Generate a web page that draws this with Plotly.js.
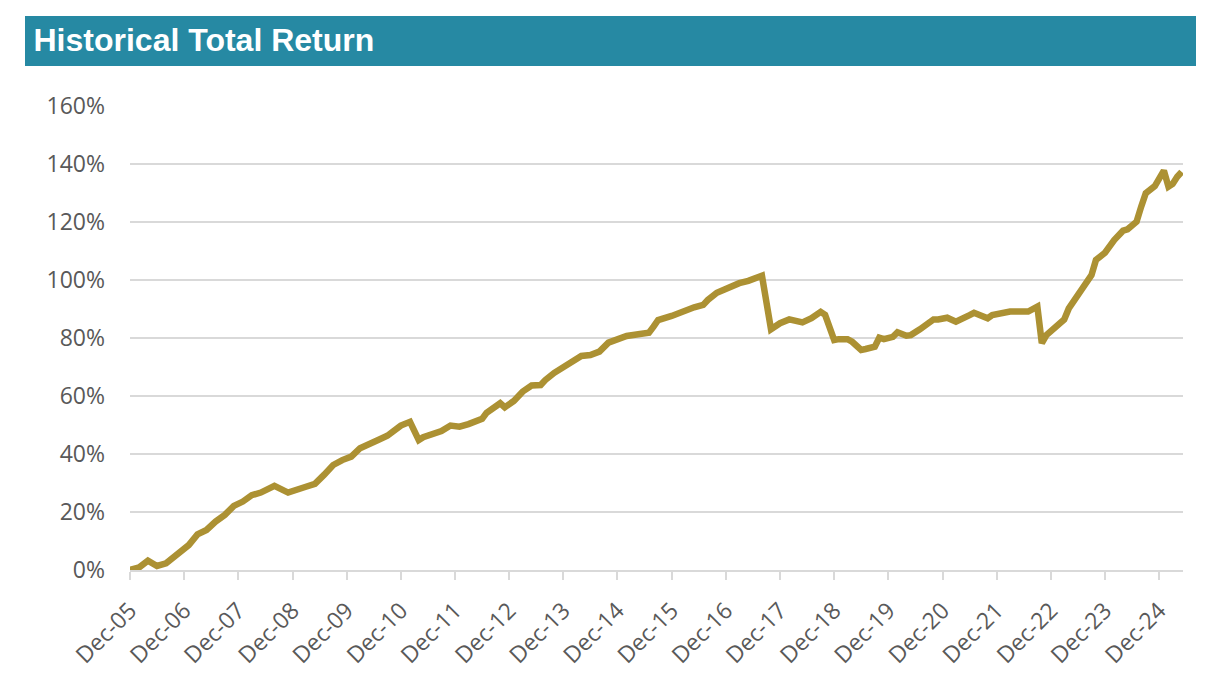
<!DOCTYPE html>
<html>
<head>
<meta charset="utf-8">
<script src="https://cdn.plot.ly/plotly-3.0.1.min.js"></script>
<style>
  html, body { margin: 0; padding: 0; background: #ffffff; }
  #chart { width: 1218px; height: 692px; }
</style>
</head>
<body>
<div id="chart"></div>
<script>
// Month of each reading
const dates = [
  "2005-12","2006-02","2006-04","2006-06","2006-08","2006-11","2007-01","2007-03","2007-05","2007-07",
  "2007-09","2007-11","2008-01","2008-03","2008-05","2008-08","2008-11","2009-03","2009-05","2009-07",
  "2009-09","2009-11","2010-01","2010-03","2010-06","2010-07","2010-09","2010-11","2010-12","2011-02",
  "2011-04","2011-05","2011-08","2011-09","2011-11","2012-01","2012-03","2012-06","2012-07","2012-10",
  "2012-11","2013-01","2013-03","2013-05","2013-07","2013-08","2013-10","2013-12","2014-03","2014-04",
  "2014-06","2014-08","2014-10","2014-11","2015-02","2015-05","2015-07","2015-08","2015-09","2015-12",
  "2016-01","2016-02","2016-05","2016-07","2016-08","2016-10","2016-12","2017-03","2017-05","2017-07",
  "2017-08","2017-10","2017-12","2018-02","2018-05","2018-07","2018-09","2018-10","2018-12","2019-01",
  "2019-03","2019-04","2019-06","2019-07","2019-09","2019-10","2019-11","2020-01","2020-02","2020-04",
  "2020-05","2020-07","2020-10","2020-11","2021-01","2021-03","2021-04","2021-06","2021-07","2021-10",
  "2021-11","2022-02","2022-03","2022-05","2022-07","2022-09","2022-10","2022-11","2023-01","2023-03",
  "2023-04","2023-06","2023-07","2023-09","2023-10","2023-12","2024-02","2024-04","2024-05","2024-07",
  "2024-08","2024-09","2024-11","2025-01","2025-02","2025-03","2025-04","2025-05"
];

// Historical total return (%)
const totalReturn = [
  0.0, 0.9, 3.2, 1.4, 2.3, 6.3, 8.6, 12.3, 13.8, 16.7,
  19.0, 22.1, 23.6, 25.8, 26.7, 29.0, 26.7, 28.7, 29.7, 32.8,
  36.2, 37.9, 39.1, 42.0, 43.7, 44.8, 46.3, 48.6, 49.8, 51.1,
  44.8, 45.8, 47.7, 47.9, 49.8, 49.4, 50.3, 52.1, 54.2, 57.5,
  56.1, 58.3, 61.5, 63.6, 63.8, 65.5, 68.0, 69.9, 72.4, 73.8,
  74.1, 75.3, 78.4, 79.1, 80.7, 81.4, 81.8, 83.9, 86.2, 87.6,
  88.2, 89.1, 90.6, 91.4, 93.1, 95.6, 97.1, 98.9, 99.7, 100.6,
  101.5, 83.0, 85.1, 86.4, 85.4, 86.8, 89.0, 88.0, 79.3, 79.6,
  79.6, 78.7, 75.9, 76.2, 77.0, 80.1, 79.6, 80.4, 82.0, 80.8,
  81.0, 83.0, 86.4, 86.4, 87.0, 85.6, 86.2, 87.9, 88.7, 86.8,
  87.9, 89.1, 89.1, 89.1, 89.1, 90.8, 78.2, 81.0, 83.9, 86.4,
  90.2, 94.8, 97.5, 101.7, 106.9, 109.4, 113.8, 117.0, 117.5, 120.1,
  125.3, 129.9, 132.4, 137.7, 132.2, 133.1, 135.6, 137.3
];

// X tick positions and labels
const tickDates = [
  "2005-12","2006-12","2007-12","2008-12","2009-12","2010-12","2011-12","2012-12","2013-12","2014-12",
  "2015-12","2016-12","2017-12","2018-12","2019-12","2020-12","2021-12","2022-12","2023-12","2024-12"
];
const tickLabels = [
  "Dec-05","Dec-06","Dec-07","Dec-08","Dec-09","Dec-10","Dec-11","Dec-12","Dec-13","Dec-14",
  "Dec-15","Dec-16","Dec-17","Dec-18","Dec-19","Dec-20","Dec-21","Dec-22","Dec-23","Dec-24"
];

// Y ticks and labels
const yTicks = [0, 20, 40, 60, 80, 100, 120, 140, 160];
const yTickLabels = ["0%", "20%", "40%", "60%", "80%", "100%", "120%", "140%", "160%"];

const trace = {
  x: dates,
  y: totalReturn,
  type: "scatter",
  mode: "lines",
  line: { color: "#AC9133", width: 6.5 },
  hoverinfo: "skip"
};

const layout = {
  width: 1218,
  height: 692,
  paper_bgcolor: "#ffffff",
  plot_bgcolor: "#ffffff",
  margin: { l: 130, r: 35, t: 106, b: 122 },
  showlegend: false,
  font: { family: "Open Sans, Liberation Sans, Arial, sans-serif", color: "#595959" },
  title: {
    text: "<b>Historical Total Return</b>",
    font: { family: "Liberation Sans, Arial, sans-serif", size: 32, color: "#ffffff" },
    x: 0.0275, xref: "container", xanchor: "left",
    y: 0.942, yref: "container", yanchor: "middle"
  },
  shapes: [{
    type: "rect", xref: "paper", yref: "paper", layer: "below",
    x0: (25 - 130) / 1053, x1: (1196 - 130) / 1053,
    y0: (570 - 66) / 464, y1: (570 - 16) / 464,
    fillcolor: "#2689A3", line: { width: 0 }
  }],
  xaxis: {
    type: "date",
    range: ["2005-12-01", "2025-05-10"],
    tickmode: "array",
    tickvals: tickDates,
    ticktext: tickLabels,
    tickangle: -45,
    ticks: "outside",
    ticklen: 8,
    tickwidth: 2,
    tickcolor: "#D9D9D9",
    ticklabelstandoff: 8,
    showgrid: false,
    showline: true,
    linecolor: "#D9D9D9",
    linewidth: 2,
    zeroline: false,
    tickfont: { size: 23, color: "#595959" },
    fixedrange: true
  },
  yaxis: {
    range: [0, 160],
    tickmode: "array",
    tickvals: yTicks,
    ticktext: yTickLabels,
    showgrid: true,
    gridcolor: "#D9D9D9",
    gridwidth: 2,
    zeroline: false,
    showline: false,
    ticks: "",
    ticklabelstandoff: 24,
    tickfont: { size: 23, color: "#595959" },
    fixedrange: true
  }
};

Plotly.newPlot("chart", [trace], layout, { displayModeBar: false, staticPlot: true });
</script>
</body>
</html>
